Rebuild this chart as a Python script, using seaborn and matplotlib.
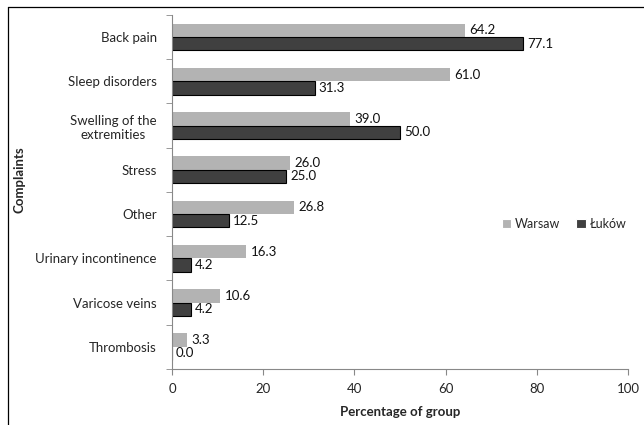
import matplotlib
matplotlib.use("Agg")
import matplotlib.pyplot as plt
from matplotlib.lines import Line2D
import seaborn as sns
import pandas as pd
import numpy as np

complaints = ["Back pain", "Sleep disorders", "Swelling of the\nextremities", "Stress",
              "Other", "Urinary incontinence", "Varicose veins", "Thrombosis"]
warsaw = [64.2, 61.0, 39.0, 26.0, 26.8, 16.3, 10.6, 3.3]
lukow = [77.1, 31.3, 50.0, 25.0, 12.5, 4.2, 4.2, 0.0]
groups = ["Warsaw", "Łuków"]
xticks = [0, 20, 40, 60, 80, 100]

df = pd.DataFrame({
    "Complaints": complaints * 2,
    "value": warsaw + lukow,
    "group": [groups[0]] * len(complaints) + [groups[1]] * len(complaints),
})

sns.set_style("white")
plt.rcParams["font.family"] = ["Lato", "DejaVu Sans"]
fs = 9.5
plt.rcParams["font.size"] = fs

fig = plt.figure(figsize=(6.44, 4.25), dpi=100)
ax = fig.add_axes([0.267, 0.132, 0.708, 0.833])

palette = {"Warsaw": "#b3b3b3", "Łuków": "#404040"}
sns.barplot(data=df, y="Complaints", x="value", hue="group", orient="h",
            palette=palette, width=0.6, saturation=1, ax=ax, order=complaints,
            hue_order=groups)

# dark series gets a black outline
for bar in ax.containers[1]:
    bar.set_edgecolor("black")
    bar.set_linewidth(0.8)
for bar in ax.containers[0]:
    bar.set_linewidth(0)

for cont in ax.containers:
    ax.bar_label(cont, fmt="%.1f", padding=3, fontsize=fs, color="#111111")

ax.set_xlim(0, 100)
ax.set_ylim(len(complaints) - 0.5, -0.5)
ax.set_xticks(xticks)
ax.set_xticklabels([str(t) for t in xticks])

# category labels centred, tick marks on category boundaries
ax.set_yticks(np.arange(len(complaints)))
ax.set_yticklabels(complaints, multialignment="center")
ax.set_yticks(np.arange(len(complaints) + 1) - 0.5, minor=True)
ax.tick_params(axis="y", which="major", length=0, pad=11, labelsize=fs)
ax.tick_params(axis="y", which="minor", length=4, color="#888888", direction="out", left=True)
ax.tick_params(axis="x", which="major", length=4, color="#888888", direction="out",
               bottom=True, pad=6, labelsize=fs)

for side in ["top", "right"]:
    ax.spines[side].set_visible(False)
for side in ["left", "bottom"]:
    ax.spines[side].set_color("#888888")
    ax.spines[side].set_linewidth(0.8)

ax.set_xlabel("Percentage of group", fontweight="bold", fontsize=fs, labelpad=8)
ax.set_ylabel("")
fig.text(19 / 644, 1 - 180 / 425, "Complaints", rotation=90,
         fontweight="bold", fontsize=fs, ha="center", va="center")

leg = ax.legend(loc="center left", bbox_to_anchor=(0.723, 0.41), ncol=2, frameon=False,
                fontsize=9, handlelength=0.75, handleheight=0.75, handletextpad=0.3,
                columnspacing=1.3, borderaxespad=0, borderpad=0)
for h in leg.legend_handles:
    h.set_linewidth(0.8)

# outer frame lines on the left and top
fig.add_artist(Line2D([8 / 644, 8 / 644], [0, 1 - 7 / 425], transform=fig.transFigure,
                      color="black", linewidth=0.9))
fig.add_artist(Line2D([8 / 644, 1], [1 - 7 / 425, 1 - 7 / 425], transform=fig.transFigure,
                      color="black", linewidth=0.9))

fig.savefig("out.png", dpi=100)
